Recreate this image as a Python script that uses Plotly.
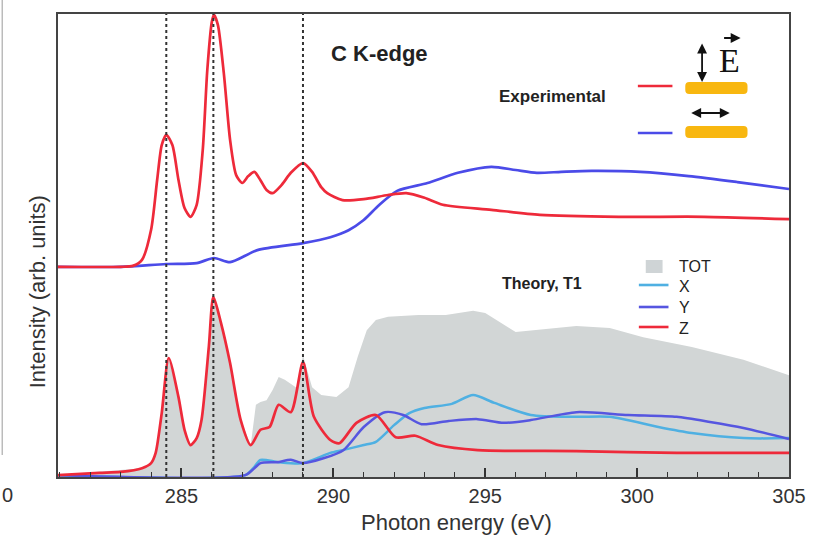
import plotly.graph_objects as go

# ---- Experimental C K-edge spectra (arb. units) ----
exp_z_e = [280.9, 283.0, 283.4, 283.7, 284.0, 284.2, 284.35, 284.5, 284.7, 284.9, 285.1,
           285.3, 285.5, 285.7, 285.85, 286.0, 286.07, 286.2, 286.4, 286.6, 286.8, 287.0,
           287.2, 287.4, 287.6, 287.8, 288.0, 288.3, 288.6, 289.0, 289.3, 289.6, 289.8,
           290.3, 291.0, 291.8, 292.4, 293.0, 293.6, 295.2, 296.8, 299.4, 302.2, 305.0]
exp_z_i = [45.4, 45.4, 45.6, 46.9, 53.4, 64.2, 71.7, 73.9, 71.7, 64.2, 58.1,
           56.2, 58.8, 70.6, 87.9, 98.3, 99.8, 97.6, 86.8, 72.8, 65.2, 63.5,
           65.0, 65.9, 64.1, 62.0, 61.3, 63.1, 65.7, 67.8, 65.9, 62.6, 61.3,
           59.8, 60.0, 60.9, 61.3, 60.3, 58.8, 57.7, 56.6, 56.2, 56.2, 55.7]

exp_xy_e = [280.9, 283.0, 284.5, 285.5, 286.07, 286.6, 287.5, 289.0, 289.9, 290.5, 291.0,
            291.5, 292.1, 293.1, 294.1, 295.2, 296.0, 296.7, 297.5, 298.5, 300.1, 301.7,
            303.3, 305.0]
exp_xy_i = [45.4, 45.4, 46.0, 46.2, 47.3, 46.4, 49.0, 50.5, 51.8, 53.3, 55.5,
            58.7, 61.8, 63.5, 65.7, 67.0, 66.3, 65.7, 65.9, 66.1, 65.9, 65.0,
            63.7, 62.2]

# ---- Theory (T1) ----
tot_e = [280.9, 283.7, 284.0, 284.15, 284.35, 284.58, 284.9, 285.1, 285.3, 285.5, 285.66,
         285.9, 286.05, 286.3, 286.6, 286.95, 287.28, 287.45, 287.6, 287.8, 288.0, 288.2,
         288.4, 288.8, 289.0, 289.3, 289.6, 290.1, 290.5, 290.8, 291.1, 291.4, 291.8,
         292.8, 293.7, 294.6, 295.0, 296.0, 297.0, 298.0, 299.1, 300.2, 301.8, 303.5, 305.0]
tot_i = [0.4, 1.9, 3.0, 5.2, 13.8, 25.7, 17.3, 10.2, 6.9, 8.4, 12.3,
         28.1, 38.9, 33.3, 24.6, 12.3, 6.9, 15.6, 16.2, 16.6, 18.8, 21.6,
         21.0, 19.2, 26.3, 19.4, 17.7, 17.3, 19.4, 25.9, 31.7, 33.9, 34.6,
         35.0, 35.0, 35.9, 35.4, 31.3, 32.0, 32.6, 32.2, 30.2, 28.1, 25.3, 22.0]

th_x_e = [280.9, 287.1, 287.4, 287.6, 288.2, 289.0, 289.9, 290.3, 291.0, 291.4, 292.0,
          292.5, 293.0, 293.9, 294.6, 295.3, 296.5, 298.0, 299.1, 300.7, 301.8, 303.5, 305.0]
th_x_i = [0.4, 0.4, 2.2, 3.7, 3.2, 3.0, 5.2, 5.8, 6.9, 7.6, 11.2,
          13.8, 14.9, 15.8, 17.7, 16.0, 13.4, 13.0, 13.0, 10.8, 9.5, 8.4, 8.4]

th_y_e = [280.9, 287.1, 287.4, 287.6, 288.15, 288.6, 289.0, 289.7, 290.33, 291.0, 291.7,
          292.3, 292.9, 293.8, 294.75, 295.6, 296.5, 298.0, 299.7, 301.3, 302.4, 303.5, 305.0]
th_y_i = [0.4, 0.4, 1.9, 3.0, 3.2, 3.7, 3.0, 4.1, 5.8, 10.8, 14.0,
          13.4, 11.4, 12.1, 12.5, 11.7, 12.3, 14.0, 13.4, 13.0, 11.9, 10.6, 8.2]

th_z_e = [280.9, 282.3, 283.0, 283.7, 284.0, 284.15, 284.35, 284.58, 284.9, 285.1, 285.3,
          285.5, 285.66, 285.9, 286.05, 286.3, 286.6, 286.95, 287.28, 287.6, 287.9, 288.2,
          288.6, 289.0, 289.36, 289.9, 290.2, 290.76, 291.4, 292.05, 292.7, 293.45, 294.75,
          298.0, 301.3, 305.0]
th_z_i = [0.4, 0.9, 1.1, 1.9, 3.0, 5.2, 13.8, 25.7, 17.3, 10.2, 6.9,
          8.4, 12.3, 28.1, 38.9, 33.3, 24.6, 12.3, 6.9, 10.2, 10.8, 15.6,
          14.0, 24.8, 13.0, 8.0, 7.3, 11.7, 13.4, 8.6, 8.9, 6.9, 5.8,
          5.6, 5.2, 5.2]

# peak positions marked by dotted guides (eV)
guide_e = [284.5, 286.05, 289.0]

x_ticks = [285, 290, 295, 300, 305]

RED = "#ee2a3a"
BLUE = "#4b4be8"
LIGHT_BLUE = "#4fb0e2"
TH_BLUE = "#5656e0"
GRAY_FILL = "#d2d6d6"
ORANGE = "#f8b710"
SANS = "Liberation Sans, Arial, sans-serif"

W, H = 818, 543
ML, MR, MT, MB = 58, 20, 14, 66
PW, PH = W - ML - MR, H - MT - MB


def px(x):
    return (x - ML) / PW


def py(y):
    return (H - MB - y) / PH


fig = go.Figure()

fig.add_trace(go.Scatter(x=tot_e, y=tot_i, mode="lines", fill="tozeroy",
                         fillcolor=GRAY_FILL, line=dict(width=0, color=GRAY_FILL),
                         name="TOT"))
fig.add_trace(go.Scatter(x=th_x_e, y=th_x_i, mode="lines", name="X",
                         line=dict(color=LIGHT_BLUE, width=2.5, shape="spline", smoothing=0.7)))
fig.add_trace(go.Scatter(x=th_y_e, y=th_y_i, mode="lines", name="Y",
                         line=dict(color=TH_BLUE, width=2.5, shape="spline", smoothing=0.7)))
fig.add_trace(go.Scatter(x=th_z_e, y=th_z_i, mode="lines", name="Z",
                         line=dict(color=RED, width=2.7, shape="spline", smoothing=0.7)))
fig.add_trace(go.Scatter(x=exp_xy_e, y=exp_xy_i, mode="lines", name="in-plane",
                         line=dict(color=BLUE, width=2.7, shape="spline", smoothing=0.7)))
fig.add_trace(go.Scatter(x=exp_z_e, y=exp_z_i, mode="lines", name="out-of-plane",
                         line=dict(color=RED, width=2.7, shape="spline", smoothing=0.7)))

shapes = []
for e in guide_e:
    shapes.append(dict(type="line", xref="x", yref="paper", x0=e, x1=e, y0=0, y1=1,
                       line=dict(color="#333333", width=2, dash="dot"), layer="above"))


def rounded_bar(x0, y0, x1, y1, r):
    # rounded rectangle given in pixel coordinates, converted to paper space
    pts = (f"M {px(x0 + r)},{py(y0)} L {px(x1 - r)},{py(y0)} "
           f"Q {px(x1)},{py(y0)} {px(x1)},{py(y0 + r)} L {px(x1)},{py(y1 - r)} "
           f"Q {px(x1)},{py(y1)} {px(x1 - r)},{py(y1)} L {px(x0 + r)},{py(y1)} "
           f"Q {px(x0)},{py(y1)} {px(x0)},{py(y1 - r)} L {px(x0)},{py(y0 + r)} "
           f"Q {px(x0)},{py(y0)} {px(x0 + r)},{py(y0)} Z")
    return dict(type="path", xref="paper", yref="paper", path=pts,
                fillcolor=ORANGE, line=dict(width=0))


# experimental legend: polarisation symbols
shapes.append(dict(type="line", xref="paper", yref="paper", x0=px(645), x1=px(680),
                   y0=py(86), y1=py(86), line=dict(color=RED, width=2.6)))
shapes.append(dict(type="line", xref="paper", yref="paper", x0=px(645), x1=px(680),
                   y0=py(133), y1=py(133), line=dict(color=BLUE, width=2.6)))
shapes.append(rounded_bar(693, 82, 756, 94, 4))
shapes.append(rounded_bar(693, 126, 756, 138, 4))

# theory legend
shapes.append(dict(type="rect", xref="paper", yref="paper", x0=px(653), x1=px(670),
                   y0=py(273), y1=py(260), fillcolor="#cfd4d6", line=dict(width=0)))
for yy, col in [(285, LIGHT_BLUE), (307, TH_BLUE), (327, RED)]:
    shapes.append(dict(type="line", xref="paper", yref="paper", x0=px(646), x1=px(676),
                       y0=py(yy), y1=py(yy), line=dict(color=col, width=2.6)))

# left neighbour panel edge
shapes.append(dict(type="line", xref="paper", yref="paper", x0=px(1.5), x1=px(1.5),
                   y0=py(455), y1=py(0), line=dict(color="#9a9a9a", width=1)))

ann = []


def text(x, y, s, size, bold=False, color="#222222", family=SANS, xanchor="center", angle=0):
    ann.append(dict(xref="paper", yref="paper", x=px(x), y=py(y), text=f"<b>{s}</b>" if bold else s,
                    showarrow=False, xanchor=xanchor, yanchor="middle", textangle=angle,
                    font=dict(size=size, color=color, family=family)))


text(383, 53, "C K-edge", 22, bold=True)
text(559, 96, "Experimental", 17, bold=True)
text(548, 283, "Theory, T1", 16, bold=True)
text(685, 266, "TOT", 16, xanchor="left")
text(685, 286, "X", 16, xanchor="left")
text(685, 307, "Y", 16, xanchor="left")
text(685, 328, "Z", 16, xanchor="left")
text(738, 60, "E", 34, family="Liberation Serif, Times New Roman, serif", color="#111111")
text(461, 522, "Photon energy (eV)", 22, color="#333333")
text(37, 292, "Intensity (arb. units)", 22, color="#333333", angle=-90)
text(7, 495, "0", 20, color="#333333")


def arrow(x, y, dx, dy, both=True):
    ann.append(dict(xref="paper", yref="paper", x=px(x), y=py(y), ax=dx, ay=dy,
                    axref="pixel", ayref="pixel", text="", showarrow=True,
                    arrowhead=2, startarrowhead=2, arrowsize=1.1, startarrowsize=1.1,
                    arrowwidth=1.8, arrowcolor="#111111",
                    arrowside="end+start" if both else "end"))


arrow(710, 82, 0, -40)
arrow(738, 113, -40, 0)
arrow(749, 38, -18, 0, both=False)

fig.update_layout(
    width=W, height=H,
    margin=dict(l=ML, r=MR, t=MT, b=MB),
    paper_bgcolor="white", plot_bgcolor="white",
    showlegend=False,
    shapes=shapes, annotations=ann,
    font=dict(family=SANS, color="#333333"),
    xaxis=dict(range=[280.935, 305.0], tickvals=x_ticks, ticks="inside", ticklen=9,
               tickwidth=1.6, tickcolor="#333333", showgrid=False, zeroline=False,
               showline=True, linecolor="#444444", linewidth=2, mirror=True,
               tickfont=dict(size=20, color="#333333"),
               minor=dict(dtick=1, tick0=285, ticks="inside", ticklen=5, tickwidth=1.4,
                          tickcolor="#333333")),
    yaxis=dict(range=[0, 100], showticklabels=False, ticks="", showgrid=False,
               zeroline=False, showline=True, linecolor="#444444", linewidth=2, mirror=True),
)

fig.write_html("out.html")
